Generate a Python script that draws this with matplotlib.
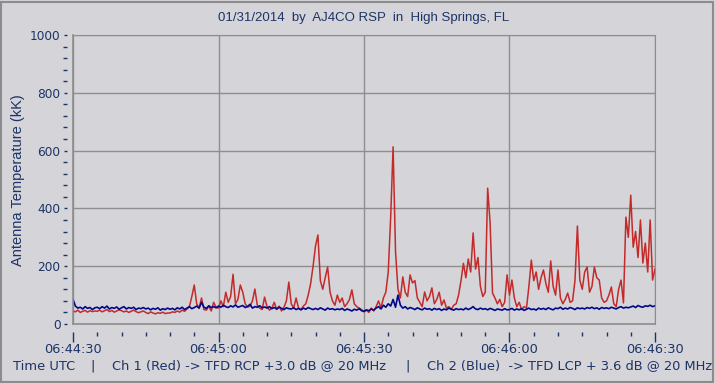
import matplotlib
matplotlib.use('Agg')
import matplotlib.pyplot as plt
import numpy as np
from matplotlib.patches import Rectangle

# 0.5 s samples from 06:44:30 to 06:46:30
step = 0.5
red = [
    45, 42, 48, 40, 44, 47, 41, 46, 43, 45,
    44, 48, 42, 46, 50, 43, 47, 41, 45, 49,
    46, 42, 45, 40, 44, 48, 43, 39, 42, 45,
    40, 36, 42, 38, 35, 39, 37, 41, 36, 38,
    38, 42, 40, 45, 41, 48, 44, 52, 60, 95,
    135, 70, 55, 90, 50, 48, 62, 45, 75, 58,
    55, 80, 60, 110, 75, 95, 172, 70, 85, 135,
    110, 70, 58, 62, 80, 121, 65, 55, 50, 93,
    60, 48, 55, 75, 50, 62, 45, 58, 80, 145,
    70, 55, 90, 55, 50, 62, 70, 100, 140, 200,
    270, 308, 150, 120, 160, 197, 110, 80, 65, 100,
    75, 90, 60, 70, 85, 118, 70, 60, 55, 50,
    42, 48, 40, 55, 45, 60, 80, 55, 90, 110,
    180, 370, 613, 250, 120, 90, 163, 110, 95, 170,
    142, 150, 90, 75, 60, 111, 80, 95, 125, 70,
    85, 110, 65, 83, 55, 60, 50, 65, 70, 100,
    150, 210, 160, 225, 180, 315, 190, 230, 130, 95,
    110, 470, 350, 107, 90, 70, 85, 60, 75, 170,
    100, 152, 90, 60, 75, 50, 60, 55, 130, 221,
    150, 180, 120, 160, 187, 140, 110, 218, 130, 100,
    187, 90, 70, 85, 107, 75, 80, 150, 339, 152,
    120, 180, 197, 110, 130, 197, 160, 152, 90, 75,
    80, 100, 128, 70, 60, 120, 152, 73, 370, 300,
    446, 266, 320, 230, 360, 211, 280, 180, 360, 152,
    190,
]
blue = [
    85, 62, 55, 58, 52, 60, 54, 57, 50, 56,
    58, 53, 60, 55, 62, 52, 57, 54, 59, 51,
    56, 60, 52, 57, 54, 58, 50, 55, 53, 57,
    52, 55, 49, 54, 51, 56, 48, 53, 50, 55,
    51, 54, 49, 56, 52, 58, 50, 55, 60, 53,
    57, 62, 55, 75, 58, 54, 63, 57, 60, 56,
    62, 58, 65, 60, 57, 63, 59, 66, 58, 61,
    64, 57, 61, 68, 55, 60, 58, 63, 56, 59,
    55, 60, 53, 57, 52, 58, 54, 50, 56, 53,
    52, 56, 50, 54, 49, 55, 51, 57, 53, 50,
    54, 50, 56, 52, 48, 55, 51, 53, 49, 52,
    50, 54, 47, 52, 49, 45, 51, 48, 53, 46,
    44, 49, 46, 52, 48, 55, 60, 52, 65, 58,
    70, 62, 85, 58, 100, 65, 55, 60, 52, 57,
    54, 50, 56, 52, 49, 55, 51, 53, 48, 54,
    50, 53, 47, 52, 49, 55, 51, 48, 53, 50,
    52, 49, 55, 50, 54, 60, 52, 50, 55, 51,
    53, 49, 54, 51, 47, 52, 50, 48, 53, 49,
    50, 54, 48, 52, 49, 53, 47, 51, 55, 50,
    52, 48, 55, 51, 54, 50, 56, 52, 49, 55,
    53, 58, 51, 55, 52, 57, 54, 50, 56, 53,
    55, 52, 57, 54, 58, 53, 56, 51, 57, 54,
    56, 53, 58, 55, 52, 57, 60, 55, 58, 56,
    59, 62, 57, 64, 60, 58, 63, 61, 65, 60,
    63,
]
time_ticks = [0, 30, 60, 90, 120]
time_labels = ['06:44:30', '06:45:00', '06:45:30', '06:46:00', '06:46:30']
y_ticks = [0, 200, 400, 600, 800, 1000]

t = np.arange(len(red)) * step

bg = '#d5d4d9'
txt = '#1c3466'
gridc = '#8e8e8e'

fig = plt.figure(figsize=(7.15, 3.83), dpi=100, facecolor=bg)
ax = fig.add_axes([73 / 715, 1 - 324 / 383, 582 / 715, 289 / 383])
ax.set_facecolor(bg)

ax.plot(t, red, color='#c42a2a', lw=1.1)
ax.plot(t, blue, color='#00088a', lw=1.2)

ax.set_xlim(0, 120)
ax.set_ylim(0, 1000)

ax.set_xticks(time_ticks)
ax.set_xticklabels(time_labels)
ax.set_xticks(np.arange(0, 121, 5), minor=True)
ax.set_yticks(y_ticks)
ax.set_yticks(np.arange(0, 1001, 40), minor=True)

ax.grid(True, which='major', color=gridc, lw=1)
for s in ['top', 'right']:
    ax.spines[s].set_color(gridc)
# ticks sit a little away from the box
ax.spines['bottom'].set_position(('outward', 6))
ax.spines['left'].set_position(('outward', 4))
ax.spines['bottom'].set_color('none')
ax.spines['left'].set_color('none')
ax.axhline(0, color=gridc, lw=1.2, clip_on=False)
ax.axvline(0, color=gridc, lw=1.2, clip_on=False)

ax.tick_params(axis='x', which='major', length=7, width=1, color=txt,
               labelcolor=txt, labelsize=9.3, pad=1)
ax.tick_params(axis='x', which='minor', length=3, width=1, color=txt)
ax.tick_params(axis='y', which='major', length=2, width=1, color=txt,
               labelcolor=txt, labelsize=8.7, pad=3)
ax.tick_params(axis='y', which='minor', length=3, width=1, color=txt)
for lab in ax.get_xticklabels() + ax.get_yticklabels():
    lab.set_family('DejaVu Sans')

fig.text(364 / 715, 1 - 18 / 383, '01/31/2014  by  AJ4CO RSP  in  High Springs, FL',
         ha='center', va='center', color=txt, fontsize=9.5, family='Liberation Sans')
fig.text(18 / 715, 1 - 180 / 383, 'Antenna Temperature (kK)', rotation=90,
         ha='center', va='center', color=txt, fontsize=10.5, family='Liberation Sans')

by = 1 - 366 / 383
fig.text(13 / 715, by, 'Time UTC', ha='left', va='center', color=txt, fontsize=9.4)
fig.text(93 / 715, by, '|', ha='center', va='center', color=txt, fontsize=9.4)
fig.text(112 / 715, by, 'Ch 1 (Red) -> TFD RCP +3.0 dB @ 20 MHz', ha='left', va='center',
         color=txt, fontsize=9.4)
fig.text(408 / 715, by, '|', ha='center', va='center', color=txt, fontsize=9.4)
fig.text(427 / 715, by, 'Ch 2 (Blue)  -> TFD LCP + 3.6 dB @ 20 MHz', ha='left', va='center',
         color=txt, fontsize=9.4)

fig.patches.append(Rectangle((1 / 715, 1 / 383), 712 / 715, 380 / 383, transform=fig.transFigure,
                             fill=False, edgecolor='#8c8c8c', lw=1.5))

fig.savefig('out.png', dpi=100, facecolor=bg)
